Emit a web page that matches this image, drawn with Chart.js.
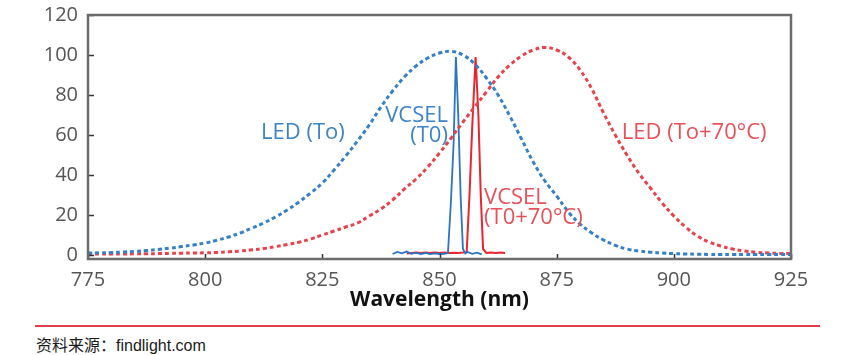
<!DOCTYPE html>
<html><head><meta charset="utf-8">
<script src="https://cdn.jsdelivr.net/npm/chart.js@4/dist/chart.umd.min.js"></script>
<style>
html,body{margin:0;padding:0;background:#fff;width:847px;height:355px;overflow:hidden}
#wrap{position:absolute;left:0;top:0;width:847px;height:314px}
#rule{position:absolute;left:35px;top:325px;width:785px;height:2px;background:#e0404a}
#src{position:absolute;left:36px;top:332px;font:16px "Liberation Sans","Noto Sans CJK SC",sans-serif;color:#1a1a1a;white-space:nowrap}
</style></head>
<body>
<div id="wrap"><canvas id="c" width="847" height="314"></canvas></div>
<div id="rule"></div>
<div id="src"></div>
<script>
// ---- data ----
const wavelengths = [775,777.5,780,782.5,785,787.5,790,792.5,795,797.5,800,802.5,805,807.5,810,812.5,815,817.5,820,822.5,825,827.5,830,832.5,835,837.5,840,842.5,845,847.5,850,852.5,855,857.5,860,862.5,865,867.5,870,872.5,875,877.5,880,882.5,885,887.5,890,892.5,895,897.5,900,902.5,905,907.5,910,912.5,915,917.5,920,922.5,925];
const ledToValues = [1,1.1,1.2,1.5,1.8,2.2,2.8,3.4,4.2,5,6,7.4,9,11,13.5,16,19,22.5,26.5,31,36,42.5,49.5,57,65,74,82,89,94.5,98.5,101,101.8,100,95.5,88.5,80,69.5,58,46.5,37,29.5,21.5,15.5,11,7.5,4.8,3,2,1.4,1,0.7,0.5,0.4,0.3,0.3,0.3,0.3,0.3,0.3,0.3,0.3];
const ledHotValues = [0.5,0.5,0.5,0.5,0.6,0.6,0.7,0.8,0.9,1,1.1,1.3,1.6,2,2.6,3.2,4.2,5.2,6.4,8,10,12,14,16,19.5,23,27.5,33,38,44,51,58.5,66.5,74,81.5,89,95,99.5,102.5,103.8,102.5,99,92.5,83,71,60,50,41,33.5,26,19.5,14,9.5,6.5,4.5,3,2,1.4,1,0.8,0.7];
const vcselToWavelengths = [840,841,842,843,844,845,846,847,848,849,850,851,851.8,852.4,853,853.5,854,854.5,855,855.5,856,857,858,859];
const vcselToValues = [0.5,1.5,0.8,1.8,0.6,1.2,0.5,1,0.4,0.8,0.5,0.6,1,25,55,99,70,30,3,0.8,1.5,0.6,1.2,0.3];
const vcselHotWavelengths = [843,844,845,846,847,848,849,850,851,852,853,854,855,855.8,856.4,857,857.7,858.3,858.8,859.3,860,861,862,863,864];
const vcselHotValues = [0.8,1,1.2,1,1.3,1,1.2,1,1.2,1,1.1,1,1.2,1.5,30,65,99,70,30,3,1,1.3,1,1.2,1];
const xTicks = [775,800,825,850,875,900,925];
const yTicks = [0,20,40,60,80,100,120];
const xTitle = 'Wavelength (nm)';
const sourceNote = '资料来源：findlight.com';

document.getElementById('src').textContent = sourceNote;

const BLUE = '#3580c8', RED = '#e8434c';
const BLUE_TXT = '#3d84c6', RED_TXT = '#e8505a';

const pts = (xs, ys) => xs.map((x, i) => ({x, y: ys[i]}));

// annotation texts (placed in data coordinates)
const notes = [
  {lines:['LED (To)'], x:829.8, y:61, align:'right', color:BLUE_TXT},
  {lines:['VCSEL','(T0)'], x:851.8, y:69.5, align:'right', color:BLUE_TXT},
  {lines:['VCSEL','(T0+70°C)'], x:859.5, y:28.5, align:'left', color:RED_TXT},
  {lines:['LED (To+70°C)'], x:888.9, y:61, align:'left', color:RED_TXT}
];

const framePlugin = {
  id: 'frame',
  afterDatasetsDraw(chart) {
    const {ctx, chartArea: a, scales} = chart;
    ctx.save();
    ctx.font = '22px "Open Sans", sans-serif';
    ctx.textBaseline = 'middle';
    notes.forEach(n => {
      const px = scales.x.getPixelForValue(n.x);
      const py = scales.y.getPixelForValue(n.y);
      ctx.fillStyle = n.color;
      ctx.textAlign = n.align;
      n.lines.forEach((t, i) => ctx.fillText(t, px, py + i * 20));
    });
    ctx.strokeStyle = '#333';
    ctx.lineWidth = 1.5;
    ctx.beginPath();
    yTicks.forEach(v => {
      const y = Math.round(scales.y.getPixelForValue(v)) + 0.5;
      ctx.moveTo(a.left, y); ctx.lineTo(a.left + 6, y);
    });
    xTicks.forEach(v => {
      const x = Math.round(scales.x.getPixelForValue(v)) + 0.5;
      ctx.moveTo(x, a.bottom); ctx.lineTo(x, a.bottom - 5);
    });
    ctx.stroke();
    ctx.strokeStyle = '#6b6b6b';
    ctx.lineWidth = 2.5;
    ctx.strokeRect(a.left, a.top, a.right - a.left, a.bottom - a.top);
    ctx.restore();
  }
};

new Chart(document.getElementById('c'), {
  type: 'line',
  data: {
    datasets: [
      {label:'LED (To)', data: pts(wavelengths, ledToValues), borderColor: BLUE, borderWidth: 3, borderDash:[4,3], pointRadius:0, tension:0.4, fill:false},
      {label:'LED (To+70°C)', data: pts(wavelengths, ledHotValues), borderColor: RED, borderWidth: 3, borderDash:[4,3], pointRadius:0, tension:0.4, fill:false},
      {label:'VCSEL (T0)', data: pts(vcselToWavelengths, vcselToValues), borderColor: '#2a74c2', borderWidth: 1.8, pointRadius:0, tension:0, fill:false},
      {label:'VCSEL (T0+70°C)', data: pts(vcselHotWavelengths, vcselHotValues), borderColor: '#e8262f', borderWidth: 2, pointRadius:0, tension:0, fill:false}
    ]
  },
  options: {
    responsive: false,
    animation: false,
    layout: {padding: {left: 0, right: 56, top: 15, bottom: 0}},
    plugins: {legend: {display:false}, tooltip: {enabled:false}},
    scales: {
      x: {
        type: 'linear', min: 775, max: 925,
        afterBuildTicks: s => { s.ticks = xTicks.map(v => ({value: v})); },
        afterFit: s => { s.height = 55; s.paddingLeft = 0; s.paddingRight = 0; },
        grid: {display:false, drawTicks:false},
        border: {display:false},
        ticks: {color:'#555', font:{family:'"Open Sans", sans-serif', size:20}, padding:9, maxRotation:0, autoSkip:false},
        title: {display:true, text:xTitle, color:'#111', font:{family:'"Open Sans", sans-serif', size:21, weight:'bold'}, padding:{top:0,bottom:1}}
      },
      y: {
        type: 'linear', min: -2, max: 120,
        afterBuildTicks: s => { s.ticks = yTicks.map(v => ({value: v})); },
        afterFit: s => { s.width = 88; s.paddingTop = 0; s.paddingBottom = 0; },
        grid: {display:false, drawTicks:false},
        border: {display:false},
        ticks: {color:'#555', font:{family:'"Open Sans", sans-serif', size:20}, padding:10}
      }
    }
  },
  plugins: [framePlugin]
});
</script>
</body></html>
